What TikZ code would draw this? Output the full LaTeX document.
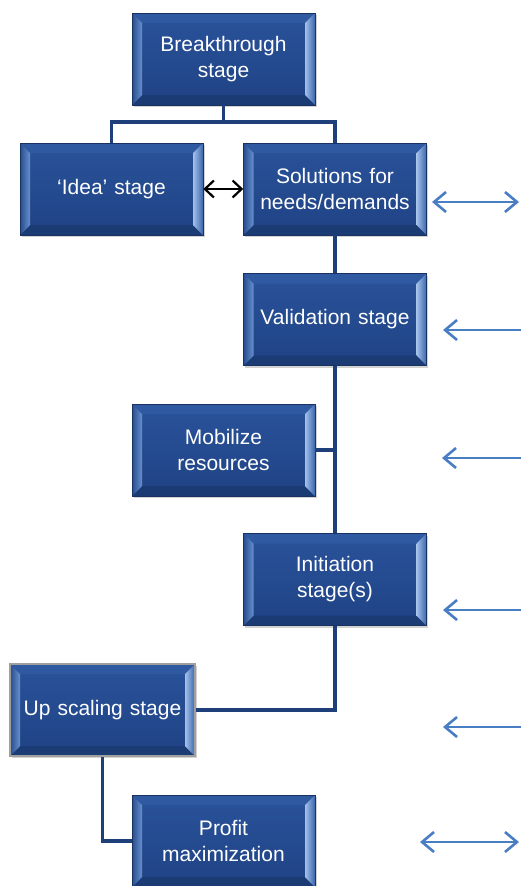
\documentclass[tikz,border=0pt]{standalone}
\usepackage{fontspec}
\setmainfont{Liberation Sans}
\usetikzlibrary{calc,arrows.meta,shadows}

\definecolor{navy}{HTML}{1F3F7A}
\definecolor{faceTop}{HTML}{2A539B}
\definecolor{faceBot}{HTML}{1F4284}
\definecolor{bvTop}{HTML}{2F5AA2}
\definecolor{bvBot}{HTML}{1B3B74}
\definecolor{bvLeftA}{HTML}{264D8E}
\definecolor{bvLeftB}{HTML}{6890CE}
\definecolor{bvRightA}{HTML}{A4C0E8}
\definecolor{bvRightB}{HTML}{3966AD}
\definecolor{linkblue}{HTML}{4A7EC4}

\tikzset{
  % bevelled stage box
  stage/.style={
    rectangle, minimum width=183pt, minimum height=92pt, inner sep=0pt,
    text width=178pt, align=center, text=white,
    font=\fontsize{21}{26}\selectfont,
    top color=faceTop, bottom color=faceBot,
    draw=navy!80!black, line width=0.6pt,
    drop shadow={shadow xshift=1.5pt, shadow yshift=-2pt, opacity=0.35},
    path picture={
      \coordinate (pSW) at (path picture bounding box.south west);
      \coordinate (pNE) at (path picture bounding box.north east);
      \coordinate (pNW) at (pSW |- pNE);
      \coordinate (pSE) at (pNE |- pSW);
      \coordinate (qSW) at ($(pSW)+(10pt,10pt)$);
      \coordinate (qNE) at ($(pNE)+(-10pt,-10pt)$);
      \coordinate (qNW) at (qSW |- qNE);
      \coordinate (qSE) at (qNE |- qSW);
      \fill[bvTop] (pNW) -- (pNE) -- (qNE) -- (qNW) -- cycle;
      \fill[bvBot] (pSW) -- (pSE) -- (qSE) -- (qSW) -- cycle;
      \shade[left color=bvLeftA, right color=bvLeftB]
        (pSW) -- (pNW) -- (qNW) -- (qSW) -- cycle;
      \shade[left color=bvRightA, right color=bvRightB]
        (pSE) -- (pNE) -- (qNE) -- (qSE) -- cycle;
    }
  },
  graystage/.style={stage, minimum width=185pt, draw=gray!75, line width=2pt},
  link/.style={draw=navy, line width=3.2pt},
  pairlink/.style={draw=black, line width=2.2pt,
    {Straight Barb[length=9pt,width=17pt]}-{Straight Barb[length=9pt,width=17pt]}},
  sidearrow/.style={draw=linkblue, line width=2.6pt,
    -{Straight Barb[length=12pt,width=20pt]}},
  sidepair/.style={draw=linkblue, line width=2.6pt,
    {Straight Barb[length=12pt,width=20pt]}-{Straight Barb[length=12pt,width=20pt]}}
}

\begin{document}
\begin{tikzpicture}[x=1pt, y=-1pt]
  \useasboundingbox (0,0) rectangle (521,886);

  % junction under the top box
  \coordinate (j1) at (223.5,122);

  % stage boxes
  \node[stage] (bt)   at (223.5,59)  {Breakthrough\\stage};
  \node[stage] (idea) at (111.5,189) {‘Idea’ stage};
  \node[stage] (sol)  at (335,189)   {Solutions for\\needs/demands};
  \node[stage] (val)  at (335,319.5) {Validation stage};
  \node[stage] (mob)  at (223.5,450) {Mobilize\\resources};
  \node[stage] (init) at (335,579.5) {Initiation\\stage(s)};
  \node[graystage] (up) at (102.5,710) {Up scaling stage};
  \node[stage] (prof) at (223.5,841) {Profit\\maximization};

  % tree connectors
  \draw[link] (bt.south) -- (j1);
  \draw[link] (idea.north) |- (j1) -| (sol.north);
  \draw[link] (sol.south) -- (val.north);
  \draw[link] (val.south) -- (init.north);
  \draw[link] (mob.east) -- (mob.east -| val.south);
  \draw[link] (init.south) |- (up.east);
  \draw[link] (up.south) |- (prof.west);

  % exchange between idea and solutions
  \draw[pairlink] (idea.east) -- (sol.west);

  % arrows entering from the right margin
  \coordinate (a1l) at (432,202);  \coordinate (a1r) at (519,202);
  \coordinate (a2l) at (443,330);  \coordinate (a2r) at (521,330);
  \coordinate (a3l) at (442,458);  \coordinate (a3r) at (521,458);
  \coordinate (a4l) at (443,610);  \coordinate (a4r) at (521,610);
  \coordinate (a5l) at (443,727);  \coordinate (a5r) at (521,727);
  \coordinate (a6l) at (420,842);  \coordinate (a6r) at (519,842);

  \draw[sidepair]  (a1l) -- (a1r);
  \draw[sidearrow] (a2r) -- (a2l);
  \draw[sidearrow] (a3r) -- (a3l);
  \draw[sidearrow] (a4r) -- (a4l);
  \draw[sidearrow] (a5r) -- (a5l);
  \draw[sidepair]  (a6l) -- (a6r);
\end{tikzpicture}
\end{document}
